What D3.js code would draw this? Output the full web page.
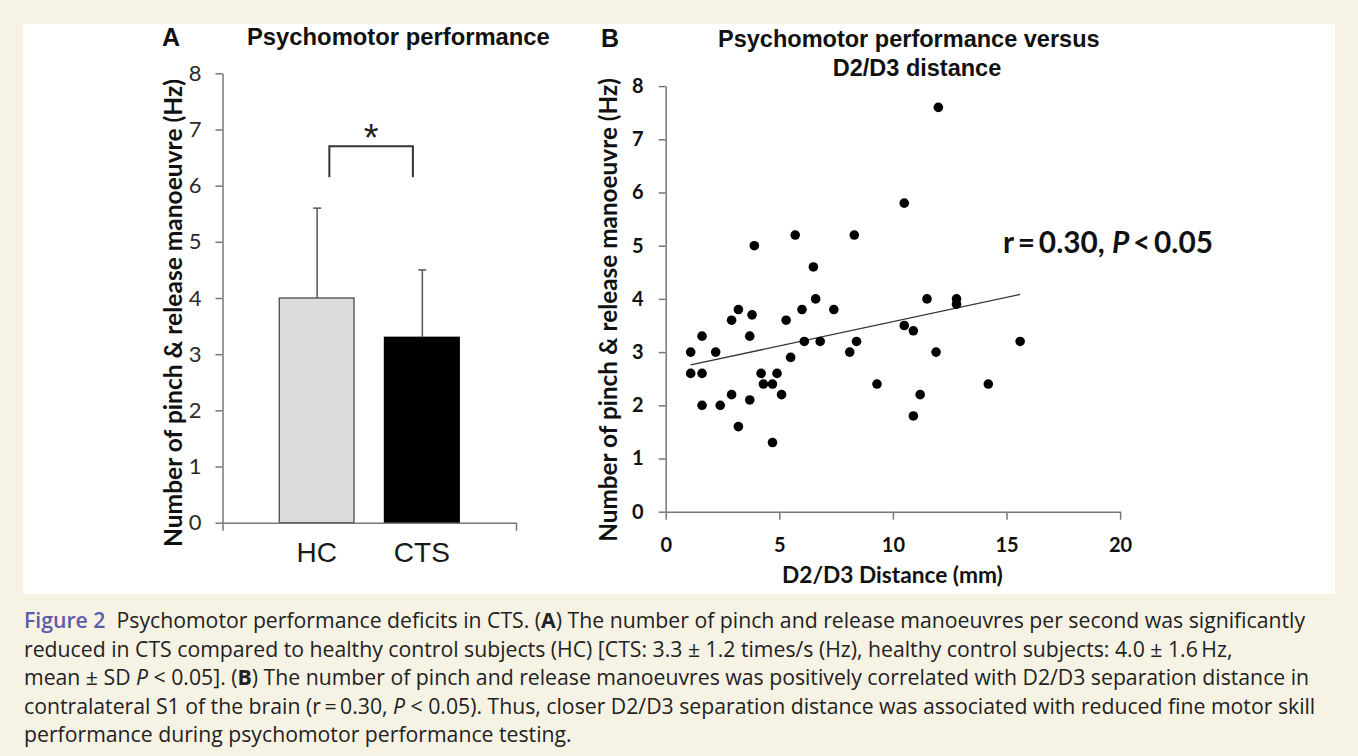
<!DOCTYPE html>
<html><head><meta charset="utf-8">
<script src="https://cdn.jsdelivr.net/npm/d3@7"></script>
<style>body{margin:0;background:#f6f2e4;} svg{display:block}</style>
</head><body>
<svg id="c" width="1358" height="756"></svg>
<script>
// ---------- data ----------
const barCategories = ["HC", "CTS"];
const barMeans = [4.0, 3.3];
const barSD = [1.6, 1.2];
const yTicksA = [0, 1, 2, 3, 4, 5, 6, 7, 8];
const sigBracket = [6.15, 6.7];           // leg bottom, bracket top (Hz)

const distanceMM = [1.1,1.1,1.6,1.6,1.6,2.2,2.4,2.9,2.9,3.2,3.2,3.7,3.7,3.8,4.2,4.3,4.7,4.9,4.7,5.1,5.3,5.5,6.0,6.1,6.5,6.6,6.8,7.4,8.1,8.4,9.3,10.5,10.9,10.9,11.2,11.5,11.9,12.8,12.8,14.2,15.6,3.9,5.7,8.3,10.5,12.0];
const pinchHz    = [3.0,2.6,2.6,3.3,2.0,3.0,2.0,3.6,2.2,3.8,1.6,3.3,2.1,3.7,2.6,2.4,2.4,2.6,1.3,2.2,3.6,2.9,3.8,3.2,4.6,4.0,3.2,3.8,3.0,3.2,2.4,3.5,3.4,1.8,2.2,4.0,3.0,4.0,3.9,2.4,3.2,5.0,5.2,5.2,5.8,7.6];
const trendFit = [2.66, 0.0913];          // intercept, slope
const xTicksB = [0, 5, 10, 15, 20];
const yTicksB = [0, 1, 2, 3, 4, 5, 6, 7, 8];

const captionLines = [
  [["Figure 2", "fig"], ["  Psychomotor performance deficits in CTS. (", ""], ["A", "b"], [") The number of pinch and release manoeuvres per second was significantly", ""]],
  [["reduced in CTS compared to healthy control subjects (HC) [CTS: 3.3 \u00b1 1.2 times/s (Hz), healthy control subjects: 4.0 \u00b1 1.6\u2009Hz,", ""]],
  [["mean \u00b1 SD ", ""], ["P", "i"], [" < 0.05]. (", ""], ["B", "b"], [") The number of pinch and release manoeuvres was positively correlated with D2/D3 separation distance in", ""]],
  [["contralateral S1 of the brain (r\u2009=\u20090.30, ", ""], ["P", "i"], [" < 0.05). Thus, closer D2/D3 separation distance was associated with reduced fine motor skill", ""]],
  [["performance during psychomotor performance testing.", ""]]
];

// ---------- helpers ----------
const svg = d3.select("#c");
function fitSize(t, target) {
  const L = t.node().getComputedTextLength();
  const fs = parseFloat(t.attr("font-size"));
  t.attr("font-size", fs * target / L);
}

// background panel
svg.append("rect").attr("x", 0).attr("y", 0).attr("width", 1358).attr("height", 756).attr("fill", "#f6f2e4");
svg.append("rect").attr("x", 23).attr("y", 24).attr("width", 1312).attr("height", 570).attr("fill", "#ffffff");

const ARIAL = "'Liberation Sans', Arial, sans-serif";
const CAL = "Lato, 'Open Sans', sans-serif";

// ================= Panel A =================
const yA = d3.scaleLinear().domain([0, 8]).range([522.7, 73.3]);
const xA = d3.scaleBand().domain(barCategories).range([222.5, 516]).paddingInner(0.29).paddingOuter(0.54);
const gA = svg.append("g");

// bars
gA.selectAll("rect.bar").data(barCategories).join("rect")
  .attr("x", d => xA(d)).attr("width", xA.bandwidth())
  .attr("y", (d, i) => yA(barMeans[i])).attr("height", (d, i) => yA(0) - yA(barMeans[i]))
  .attr("fill", (d, i) => i === 0 ? "#dcdcdc" : "#000")
  .attr("stroke", (d, i) => i === 0 ? "#555" : "#000").attr("stroke-width", 1.4);

// error bars
barCategories.forEach((c, i) => {
  const cx = xA(c) + xA.bandwidth() / 2 + 0.5;
  gA.append("line").attr("x1", cx).attr("x2", cx).attr("y1", yA(barMeans[i])).attr("y2", yA(barMeans[i] + barSD[i]))
    .attr("stroke", "#555").attr("stroke-width", 1.5);
  gA.append("line").attr("x1", cx - 4).attr("x2", cx + 4).attr("y1", yA(barMeans[i] + barSD[i])).attr("y2", yA(barMeans[i] + barSD[i]))
    .attr("stroke", "#555").attr("stroke-width", 1.5);
});

// axes
const axA = gA.append("g").attr("transform", `translate(${xA.range()[0]},0)`)
  .call(d3.axisLeft(yA).tickValues(yTicksA).tickSize(7).tickSizeOuter(0).tickPadding(14));
axA.select(".domain").attr("stroke", "#777").attr("stroke-width", 1.5);
axA.selectAll(".tick line").attr("stroke", "#777").attr("stroke-width", 1.5);
axA.selectAll(".tick text").attr("font-family", CAL).attr("font-size", 22).attr("fill", "#2a2a2a");

const axAx = gA.append("g").attr("transform", `translate(0,${yA(0)})`)
  .call(d3.axisBottom(xA).tickSize(0).tickSizeOuter(8).tickPadding(19));
axAx.select(".domain").attr("stroke", "#777").attr("stroke-width", 1.5);
axAx.selectAll(".tick text").attr("font-family", ARIAL).attr("font-size", 28).attr("fill", "#1a1a1a");

// significance bracket
const bl = xA("HC") + 0.67 * xA.bandwidth(), br = xA("CTS") + 0.38 * xA.bandwidth();
gA.append("path")
  .attr("d", `M${bl},${yA(sigBracket[0])}V${yA(sigBracket[1])}H${br}V${yA(sigBracket[0])}`)
  .attr("fill", "none").attr("stroke", "#333").attr("stroke-width", 2);
gA.append("text").attr("x", (bl + br) / 2).attr("y", 151).attr("text-anchor", "middle")
  .attr("font-family", ARIAL).attr("font-size", 38).attr("fill", "#222").text("*");

// titles
gA.append("text").attr("x", 162).attr("y", 46).attr("font-family", ARIAL).attr("font-weight", "bold")
  .attr("font-size", 25).attr("fill", "#111").text("A");
const tA = gA.append("text").attr("x", 247).attr("y", 45).attr("font-family", ARIAL).attr("font-weight", "bold")
  .attr("font-size", 23.5).attr("fill", "#111").text("Psychomotor performance");
fitSize(tA, 303);

const ylA = gA.append("text").attr("transform", "translate(182,313) rotate(-90)").attr("text-anchor", "middle")
  .attr("font-family", CAL).attr("font-weight", "bold").attr("font-size", 24).attr("fill", "#111")
  .text("Number of pinch & release manoeuvre (Hz)");
fitSize(ylA, 468);

// ================= Panel B =================
const xB = d3.scaleLinear().domain([0, 20]).range([665.7, 1120.1]);
const yB = d3.scaleLinear().domain([0, 8]).range([511.7, 86.1]);
const gB = svg.append("g");

const axBy = gB.append("g").attr("transform", `translate(${xB(0)},0)`)
  .call(d3.axisLeft(yB).tickValues(yTicksB).tickSize(7).tickSizeOuter(0).tickPadding(15));
const axBx = gB.append("g").attr("transform", `translate(0,${yB(0)})`)
  .call(d3.axisBottom(xB).tickValues(xTicksB).tickSize(8).tickSizeOuter(0).tickPadding(18));
[axBy, axBx].forEach(a => {
  a.select(".domain").attr("stroke", "#777").attr("stroke-width", 1.5);
  a.selectAll(".tick line").attr("stroke", "#777").attr("stroke-width", 1.5);
  a.selectAll(".tick text").attr("font-family", CAL).attr("font-weight", "bold").attr("font-size", 20).attr("fill", "#111");
});

// trend line
const xr = d3.extent(distanceMM);
gB.append("line")
  .attr("x1", xB(xr[0])).attr("y1", yB(trendFit[0] + trendFit[1] * xr[0]))
  .attr("x2", xB(xr[1])).attr("y2", yB(trendFit[0] + trendFit[1] * xr[1]))
  .attr("stroke", "#333").attr("stroke-width", 1.4);

// points
gB.selectAll("circle").data(distanceMM).join("circle")
  .attr("cx", d => xB(d)).attr("cy", (d, i) => yB(pinchHz[i])).attr("r", 4.8).attr("fill", "#000");

// titles
gB.append("text").attr("x", 601).attr("y", 47).attr("font-family", ARIAL).attr("font-weight", "bold")
  .attr("font-size", 25).attr("fill", "#111").text("B");
const tB1 = gB.append("text").attr("x", 718).attr("y", 46.5).attr("font-family", ARIAL).attr("font-weight", "bold")
  .attr("font-size", 23.5).attr("fill", "#111").text("Psychomotor performance versus");
fitSize(tB1, 382);
gB.append("text").attr("x", 917).attr("y", 76).attr("text-anchor", "middle").attr("font-family", ARIAL).attr("font-weight", "bold")
  .attr("font-size", tB1.attr("font-size")).attr("fill", "#111").text("D2/D3 distance");

const ylB = gB.append("text").attr("transform", "translate(617,310) rotate(-90)").attr("text-anchor", "middle")
  .attr("font-family", CAL).attr("font-weight", "bold").attr("font-size", 22).attr("fill", "#111")
  .text("Number of pinch & release manoeuvre (Hz)");
fitSize(ylB, 464);

const xlB = gB.append("text").attr("x", 782).attr("y", 583)
  .attr("font-family", CAL).attr("font-weight", "bold").attr("font-size", 20).attr("fill", "#111")
  .text("D2/D3 Distance (mm)");
fitSize(xlB, 221);

const rt = gB.append("text").attr("x", 1003).attr("y", 253)
  .attr("font-family", CAL).attr("font-weight", "bold").attr("font-size", 21).attr("fill", "#111");
rt.append("tspan").text("r\u2009=\u20090.30, ");
rt.append("tspan").attr("font-style", "italic").text("P");
rt.append("tspan").text("\u2009<\u20090.05");
fitSize(rt, 210);

// ================= Caption =================
const capG = svg.append("g");
const capTexts = captionLines.map((segs, li) => {
  const t = capG.append("text").attr("x", 24).attr("y", 628 + li * 28.5)
    .attr("font-family", "'Open Sans', sans-serif").attr("font-size", 17).attr("fill", "#222");
  segs.forEach(([s, st]) => {
    const sp = t.append("tspan").text(s);
    if (st === "fig") sp.attr("fill", "#5a5ea8").attr("font-weight", 600);
    if (st === "b") sp.attr("font-weight", "bold");
    if (st === "i") sp.attr("font-style", "italic");
  });
  t.style("white-space", "pre");
  return t;
});
const L1 = capTexts[0].node().getComputedTextLength();
const capFs = 17 * 1282 / L1;
capTexts.forEach(t => t.attr("font-size", capFs));
</script>
</body></html>
